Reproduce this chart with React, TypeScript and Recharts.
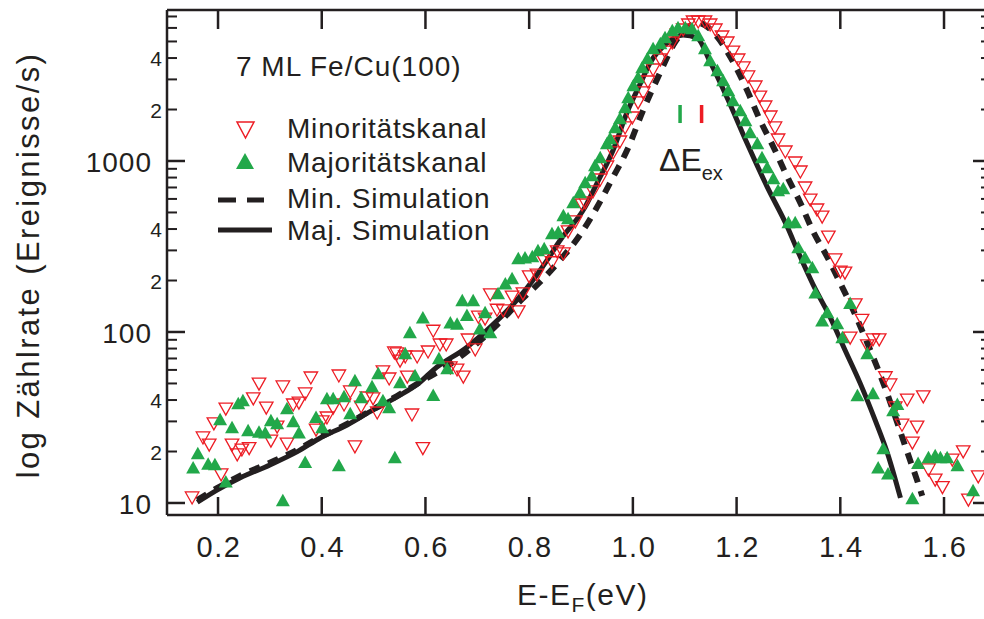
import React from 'react'
import { ComposedChart, Scatter, Line, XAxis, YAxis, ReferenceLine } from 'recharts'

const INK = '#231f20'
const RED = '#ed1c24'
const GREEN = '#22a84a'
const FONT = '"Liberation Sans", Arial, Helvetica, sans-serif'

// Minoritätskanal (open red triangles)
const minE = [
  0.150, 0.171, 0.183, 0.192, 0.206, 0.215, 0.227, 0.237, 0.246, 0.260, 0.268, 0.279, 0.293, 0.302, 0.314,
  0.325, 0.333, 0.345, 0.356, 0.368, 0.379, 0.389, 0.401, 0.410, 0.422, 0.433, 0.443, 0.455, 0.464, 0.476,
  0.487, 0.499, 0.507, 0.518, 0.530, 0.540, 0.545, 0.551, 0.561, 0.565, 0.574, 0.584, 0.595, 0.605, 0.615,
  0.628, 0.640, 0.648, 0.661, 0.673, 0.682, 0.696, 0.702, 0.715, 0.725, 0.738, 0.750, 0.767, 0.779, 0.788,
  0.800, 0.815, 0.827, 0.844, 0.854, 0.866, 0.875, 0.889, 0.902, 0.908, 0.923, 0.937, 0.950, 0.962, 0.975,
  0.985, 0.999, 1.010, 1.020, 1.029, 1.039, 1.053, 1.062, 1.076, 1.085, 1.097, 1.107, 1.116, 1.126, 1.139,
  1.149, 1.159, 1.172, 1.182, 1.193, 1.203, 1.213, 1.222, 1.236, 1.245, 1.255, 1.265, 1.274, 1.280, 1.294,
  1.313, 1.323, 1.332, 1.342, 1.355, 1.365, 1.377, 1.390, 1.400, 1.409, 1.419, 1.429, 1.442, 1.452, 1.463,
  1.475, 1.487, 1.496, 1.506, 1.519, 1.529, 1.539, 1.548, 1.560, 1.570, 1.583, 1.597, 1.616, 1.637, 1.647,
  1.666,
]
const minRate = [
  10.7, 24.0, 21.8, 29.0, 14.6, 35.4, 21.8, 19.1, 20.4, 20.8, 40.6, 49.6, 35.9, 23.0, 27.8,
  47.7, 22.1, 37.4, 38.4, 43.4, 53.8, 26.7, 29.8, 31.4, 35.9, 55.3, 37.4, 44.6, 21.3, 36.4,
  41.1, 40.6, 33.6, 58.4, 53.1, 75.4, 74.4, 67.6, 71.4, 54.5, 32.7, 71.4, 20.8, 76.4, 101,
  83.9, 83.9, 61.6, 59.9, 54.5, 89.8, 78.5, 122, 119, 165, 134, 133, 160, 131, 167,
  210, 215, 264, 254, 294, 286, 385, 440, 553, 568, 659, 774, 922, 1114, 1291,
  1560, 1784, 2185, 2499, 2897, 3404, 3896, 4337, 4897, 5457, 5834, 6240, 6500, 6500, 6500,
  6240, 5834, 5309, 4897, 4337, 3896, 3500, 3100, 2709, 2366, 2069, 1808, 1560, 1327, 1129,
  973, 862, 695, 591, 517, 470, 359, 264, 224, 221, 92, 144, 117, 83, 90,
  90, 54, 49, 36, 28.5, 40, 22.4, 27.8, 41.7, 15.6, 13.6, 12.3, 17.8, 19.9, 10.4,
  14.2,
]

// Majoritätskanal (filled green triangles)
const majE = [
  0.152, 0.161, 0.181, 0.194, 0.204, 0.215, 0.227, 0.239, 0.248, 0.258, 0.279, 0.291, 0.302, 0.314, 0.325,
  0.333, 0.345, 0.356, 0.368, 0.389, 0.401, 0.410, 0.422, 0.433, 0.443, 0.455, 0.464, 0.476, 0.497, 0.509,
  0.518, 0.530, 0.541, 0.551, 0.561, 0.570, 0.580, 0.595, 0.615, 0.626, 0.642, 0.648, 0.661, 0.671, 0.680,
  0.692, 0.705, 0.715, 0.725, 0.740, 0.754, 0.767, 0.779, 0.792, 0.806, 0.817, 0.829, 0.844, 0.856, 0.866,
  0.875, 0.885, 0.898, 0.908, 0.921, 0.927, 0.937, 0.950, 0.956, 0.966, 0.975, 0.985, 0.991, 1.001, 1.010,
  1.018, 1.028, 1.039, 1.053, 1.062, 1.076, 1.087, 1.101, 1.114, 1.126, 1.139, 1.149, 1.163, 1.174, 1.184,
  1.193, 1.207, 1.217, 1.226, 1.240, 1.249, 1.259, 1.271, 1.280, 1.290, 1.300, 1.313, 1.319, 1.332, 1.346,
  1.352, 1.365, 1.375, 1.394, 1.404, 1.419, 1.433, 1.452, 1.463, 1.473, 1.483, 1.492, 1.502, 1.510, 1.539,
  1.550, 1.570, 1.583, 1.593, 1.606, 1.626, 1.656,
]
const majRate = [
  16.2, 19.6, 17.0, 16.9, 31.0, 13.4, 27.8, 38.4, 40.0, 26.7, 26.2, 25.9, 30.6, 29.4, 10.4,
  35.9, 30.2, 25.9, 17.4, 31.9, 27.8, 41.1, 41.1, 16.7, 42.2, 33.6, 52.4, 41.7, 48.3, 57.6,
  40.0, 36.4, 18.6, 51.0, 75.4, 100, 56, 122, 43, 70.5, 61.6, 114, 112, 154, 126,
  154, 105, 131, 100, 169, 193, 207, 271, 274, 278, 302, 310, 379, 385, 484,
  464, 576, 659, 753, 828, 948, 1055, 1274, 1363, 1580, 1784, 2069, 2366, 2782, 3100,
  3545, 4000, 4578, 4897, 5309, 5834, 6077, 6077, 5997, 5457, 4578, 3896, 3404, 2977, 2600,
  2273, 1986, 1738, 1478, 1274, 1055, 922, 796, 677, 695, 440, 440, 314, 274, 240,
  171, 117, 131, 113, 93.5, 148, 42.8, 75.4, 44, 16.2, 21, 14.9, 35, 38, 10.7,
  17.2, 18.6, 19.1, 18.6, 18.6, 16.7, 11.9,
]

// Min. Simulation (dashed)
const minSimE = [
  0.160, 0.198, 0.242, 0.300, 0.352, 0.397, 0.449, 0.493, 0.545, 0.590, 0.648, 0.738, 0.779, 0.821, 0.860,
  0.898, 0.931, 0.962, 0.989, 1.020, 1.053, 1.078, 1.105, 1.126, 1.163, 1.188, 1.220, 1.245, 1.271, 1.298,
  1.323, 1.348, 1.375, 1.400, 1.425, 1.448, 1.471, 1.490, 1.510, 1.529, 1.548, 1.558,
]
const minSimRate = [
  10.4, 12.2, 14.4, 17.2, 20.4, 24.3, 29.0, 34.5, 42.2, 51.0, 65, 110, 148, 196, 264,
  369, 538, 806, 1159, 1986, 3311, 4764, 5997, 6400, 5309, 4057, 2600, 1738, 1208, 806,
  568, 385, 274, 193, 134, 92.2, 62.4, 44.0, 29.4, 19.9, 13.6, 11.0,
]

// Maj. Simulation (solid)
const majSimE = [
  0.160, 0.198, 0.242, 0.300, 0.352, 0.397, 0.449, 0.493, 0.545, 0.590, 0.615, 0.680, 0.744, 0.796, 0.835,
  0.860, 0.908, 0.931, 0.962, 0.989, 1.014, 1.033, 1.066, 1.097, 1.124, 1.149, 1.182, 1.220, 1.259, 1.298,
  1.317, 1.348, 1.381, 1.409, 1.438, 1.467, 1.492, 1.516,
]
const majSimRate = [
  10.1, 11.9, 14.0, 16.7, 19.9, 24.0, 28.6, 34.2, 41.7, 51.0, 59.9, 81.5, 121, 181, 264,
  345, 539, 743, 1160, 1934, 2818, 3741, 4897, 5457, 5236, 3793, 2333, 1274, 705, 411,
  302, 188, 121, 78.5, 50.4, 30.6, 19.1, 10.7,
]

const xTicks = [0.2, 0.4, 0.6, 0.8, 1.0, 1.2, 1.4, 1.6]
const yTicks = [10, 20, 30, 40, 50, 60, 70, 80, 90, 100, 200, 300, 400, 500, 600, 700, 800, 900, 1000, 2000, 3000, 4000, 5000, 6000, 7000]
const yTickLabels: Record<number, string> = { 10: '10', 20: '2', 40: '4', 100: '100', 200: '2', 400: '4', 1000: '1000', 2000: '2', 4000: '4' }
const majorTicks = [10, 100, 1000]

// ΔE_ex markers
const gapE = [1.091, 1.1325]
const gapRate = [1667, 2126]

const X_DOMAIN = [0.1016, 1.6906]
const Y_DOMAIN = [8.506, 7638]

const toPoints = (xs: number[], ys: number[]) => xs.map((x, i) => ({ x, y: ys[i] }))

const minData = toPoints(minE, minRate)
const majData = toPoints(majE, majRate)
const minSim = toPoints(minSimE, minSimRate)
const majSim = toPoints(majSimE, majSimRate)

const DownTriangle = (props: any) => {
  const { cx, cy } = props
  const w = 13.5
  const h = 12
  return (
    <path
      d={`M${cx - w / 2},${cy - h / 2}L${cx + w / 2},${cy - h / 2}L${cx},${cy + h / 2}Z`}
      fill="none"
      stroke={RED}
      strokeWidth={1.3}
    />
  )
}

const UpTriangle = (props: any) => {
  const { cx, cy } = props
  const w = 14
  const h = 12.5
  return <path d={`M${cx - w / 2},${cy + h / 2}L${cx + w / 2},${cy + h / 2}L${cx},${cy - h / 2}Z`} fill={GREEN} />
}

const NoMark = () => <g />

const LeftTick = ({ x, y, payload }: any) => {
  const v = payload.value
  const major = majorTicks.includes(v)
  const label = yTickLabels[v]
  return (
    <g>
      <line x1={x} x2={x + (major ? 18 : 10)} y1={y} y2={y} stroke={INK} strokeWidth={major ? 2.5 : 2} />
      {label && (
        <text
          x={major ? x - 15 : x - 5}
          y={y + (major ? 11 : 8)}
          textAnchor="end"
          fontSize={major ? 28 : 21}
          fontFamily={FONT}
          letterSpacing={major ? 1 : 0}
          fill={INK}
        >
          {label}
        </text>
      )}
    </g>
  )
}

const RightTick = ({ x, y, payload }: any) => {
  const major = majorTicks.includes(payload.value)
  return <line x1={x} x2={x - (major ? 18 : 10)} y1={y} y2={y} stroke={INK} strokeWidth={major ? 2.5 : 2} />
}

const BottomTick = ({ x, y, payload }: any) => (
  <g>
    <line x1={x} x2={x} y1={y} y2={y - 18} stroke={INK} strokeWidth={2.5} />
    <text x={x + 1} y={y + 42} textAnchor="middle" fontSize={29} fontFamily={FONT} letterSpacing={1.5} fill={INK}>
      {payload.value.toFixed(1)}
    </text>
  </g>
)

const TopTick = ({ x, y }: any) => <line x1={x} x2={x} y1={y} y2={y + 19} stroke={INK} strokeWidth={2.5} />

const axisLine = { stroke: INK, strokeWidth: 2.5 }

export default function App() {
  return (
    <div style={{ position: 'absolute', left: 0, top: 0, width: 984, height: 619, overflow: 'hidden', background: '#fff', fontFamily: FONT }}>
      <ComposedChart width={992} height={619} margin={{ top: 9, right: 0, bottom: 0, left: 0 }}>
        <XAxis
          dataKey="x"
          type="number"
          domain={X_DOMAIN}
          allowDataOverflow
          ticks={xTicks}
          interval={0}
          height={104}
          tickSize={0}
          tickMargin={0}
          tickLine={false}
          axisLine={axisLine}
          tick={<BottomTick />}
        />
        <XAxis
          xAxisId="top"
          orientation="top"
          dataKey="x"
          type="number"
          domain={X_DOMAIN}
          allowDataOverflow
          ticks={xTicks}
          interval={0}
          height={1}
          tickSize={0}
          tickMargin={0}
          tickLine={false}
          axisLine={axisLine}
          tick={<TopTick />}
        />
        <YAxis
          type="number"
          scale="log"
          domain={Y_DOMAIN}
          allowDataOverflow
          ticks={yTicks}
          interval={0}
          width={167}
          tickSize={0}
          tickMargin={0}
          tickLine={false}
          axisLine={axisLine}
          tick={<LeftTick />}
        />
        <YAxis
          yAxisId="right"
          orientation="right"
          type="number"
          scale="log"
          domain={Y_DOMAIN}
          allowDataOverflow
          ticks={yTicks}
          interval={0}
          width={1}
          tickSize={0}
          tickMargin={0}
          tickLine={false}
          axisLine={axisLine}
          tick={<RightTick />}
        />
        {/* invisible series so the mirrored frame axes are drawn */}
        <Scatter data={majData} dataKey="y" xAxisId="top" yAxisId="right" shape={<NoMark />} isAnimationActive={false} />
        <Scatter data={minData} dataKey="y" shape={<DownTriangle />} isAnimationActive={false} />
        <Scatter data={majData} dataKey="y" shape={<UpTriangle />} isAnimationActive={false} />
        <Line
          data={minSim}
          dataKey="y"
          type="monotone"
          stroke={INK}
          strokeWidth={6}
          strokeDasharray="11 9"
          dot={false}
          isAnimationActive={false}
        />
        <Line data={majSim} dataKey="y" type="monotone" stroke={INK} strokeWidth={5} dot={false} isAnimationActive={false} />
        <ReferenceLine
          segment={[{ x: gapE[0], y: gapRate[0] }, { x: gapE[0], y: gapRate[1] }]}
          stroke={GREEN}
          strokeWidth={3.5}
        />
        <ReferenceLine
          segment={[{ x: gapE[1], y: gapRate[0] }, { x: gapE[1], y: gapRate[1] }]}
          stroke={RED}
          strokeWidth={3.5}
        />
      </ComposedChart>

      <svg width={984} height={619} style={{ position: 'absolute', left: 0, top: 0, pointerEvents: 'none' }} fontFamily={FONT} fill={INK}>
        <text transform="translate(39,265) rotate(-90)" textAnchor="middle" fontSize={31} letterSpacing={2.4}>
          log Zählrate (Ereignisse/s)
        </text>
        <text x={517} y={605} fontSize={30} letterSpacing={1.5}>
          E-E
          <tspan fontSize={21} dy={7}>F</tspan>
          <tspan dy={-7}>(eV)</tspan>
        </text>

        <text x={236} y={76} fontSize={28} letterSpacing={1}>7 ML Fe/Cu(100)</text>

        <path d="M237,122L254,122L245.5,138Z" fill="none" stroke={RED} strokeWidth={1.5} />
        <text x={287} y={138} fontSize={28} letterSpacing={0.8}>Minoritätskanal</text>

        <path d="M236,169L254,169L245,153Z" fill={GREEN} />
        <text x={287} y={172} fontSize={28} letterSpacing={0.8}>Majoritätskanal</text>

        <line x1={218} x2={236} y1={200} y2={200} stroke={INK} strokeWidth={5} />
        <line x1={247} x2={264} y1={200} y2={200} stroke={INK} strokeWidth={5} />
        <text x={287} y={208} fontSize={28} letterSpacing={0.8}>Min. Simulation</text>

        <line x1={218} x2={272} y1={230} y2={230} stroke={INK} strokeWidth={5} />
        <text x={287} y={240} fontSize={28} letterSpacing={0.8}>Maj. Simulation</text>

        <text x={659} y={171} fontSize={32}>
          ΔE
          <tspan fontSize={20} dy={9}>ex</tspan>
        </text>
      </svg>
    </div>
  )
}
